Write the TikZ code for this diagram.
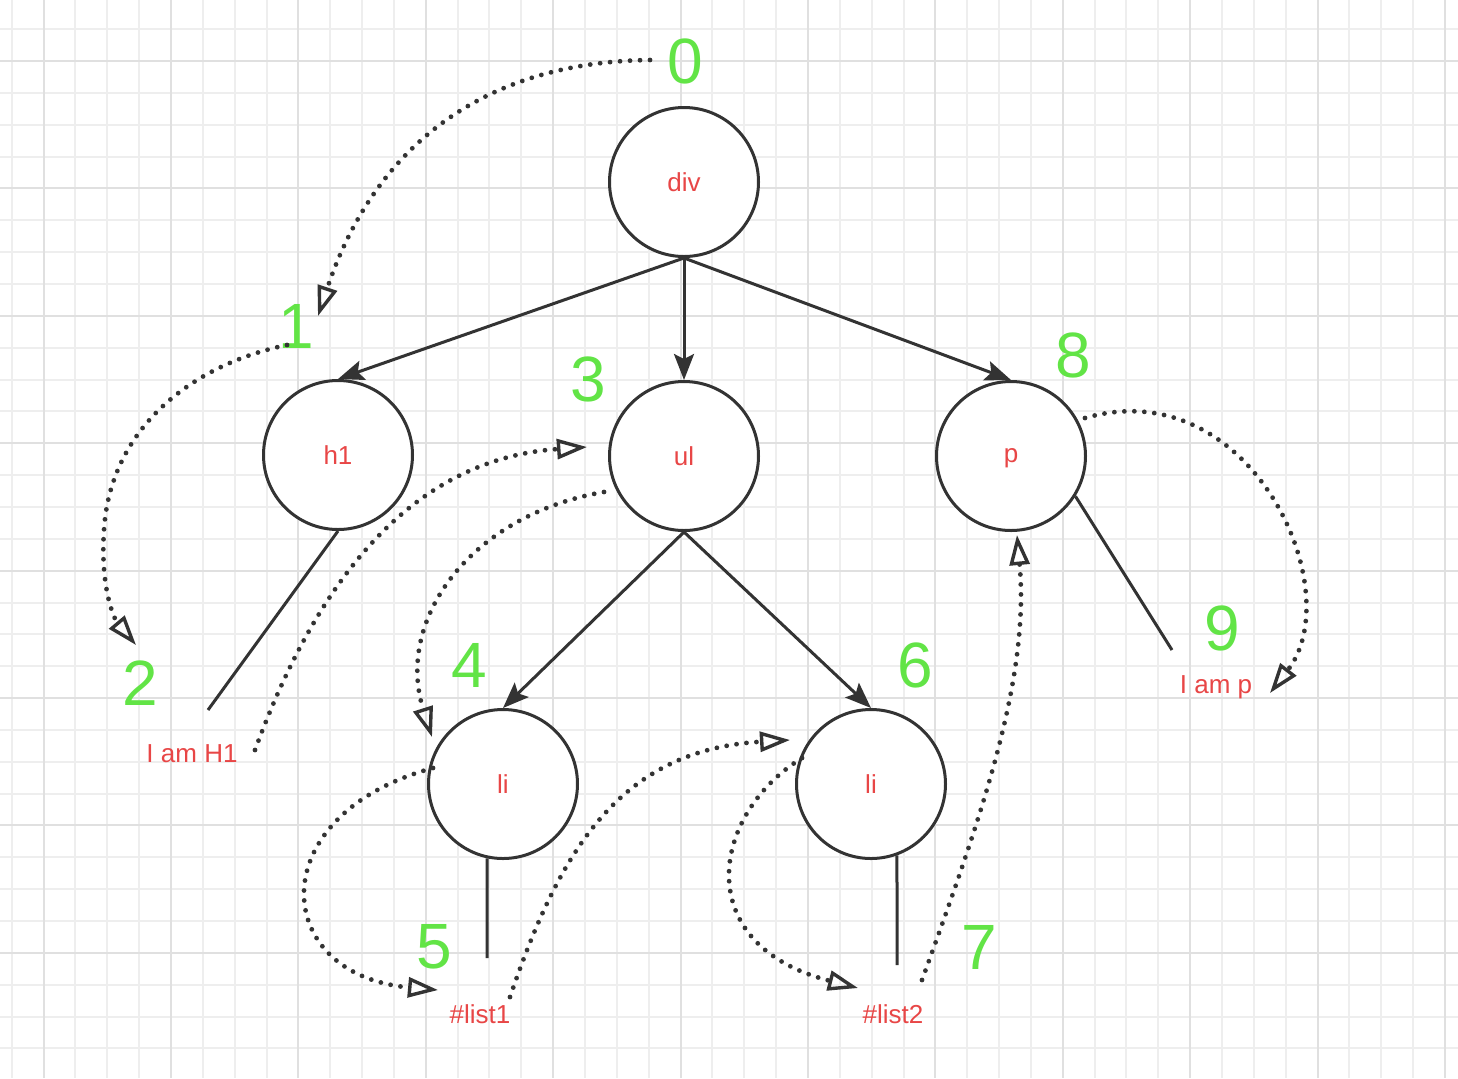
\documentclass[tikz,border=0pt]{standalone}
\usepackage{fontspec}
\setmainfont{Liberation Sans}
\usetikzlibrary{arrows.meta}
\definecolor{numgreen}{RGB}{98,228,70}
\definecolor{lblred}{RGB}{232,70,70}
\definecolor{inkgray}{RGB}{51,51,51}
\definecolor{gridminor}{RGB}{238,238,238}
\definecolor{gridmajor}{RGB}{224,224,224}
\begin{document}
\begin{tikzpicture}[x=0.5pt,y=-0.5pt,
  treenode/.style={circle, draw=inkgray, line width=1.5pt, fill=white, minimum size=74.5pt, inner sep=0pt, text=lblred, text depth=0pt, font=\fontsize{13}{15}\selectfont},
  stepnum/.style={text=numgreen, inner sep=0pt, font=\fontsize{32}{36}\selectfont},
  leaftext/.style={text=lblred, inner sep=0pt, anchor=base, font=\fontsize{13}{15}\selectfont},
  treeedge/.style={draw=inkgray, line width=1.5pt, -{Stealth[length=13pt,width=10pt,inset=2.5pt]}},
  stem/.style={draw=inkgray, line width=1.5pt},
  walk/.style={draw=inkgray, line width=2.4pt, dash pattern=on 0pt off 5pt, line cap=round, -{Triangle[open,length=15pt,width=10pt,line width=1.7pt]}}
]
\useasboundingbox (0,0) rectangle (1458,1078);
\fill[white] (0,0) rectangle (1458,1078);
% grid
\foreach \k in {0,...,45} {\pgfmathsetmacro\xx{11.7+\k*31.85}\draw[gridminor, line width=1pt] (\xx,0) -- (\xx,1078);}
\foreach \k in {0,...,33} {\pgfmathsetmacro\yy{29.2+\k*31.85}\draw[gridminor, line width=1pt] (0,\yy) -- (1458,\yy);}
\foreach \k in {0,...,11} {\pgfmathsetmacro\xx{43.6+\k*127.4}\draw[gridmajor, line width=1pt] (\xx,0) -- (\xx,1078);}
\foreach \k in {0,...,7} {\pgfmathsetmacro\yy{61+\k*127.4}\draw[gridmajor, line width=1pt] (0,\yy) -- (1458,\yy);}

% tree nodes
\node[treenode] (div) at (684,182) {div};
\node[treenode] (h1) at (338,455) {h1};
\node[treenode] (ul) at (684,456) {ul};
\node[treenode] (p) at (1011,456) {p};
\node[treenode] (li1) at (503,784) {li};
\node[treenode] (li2) at (871,784) {li};

% leaf texts
\node[leaftext] (th1) at (192,762) {I am H1};
\node[leaftext] (tp) at (1216,693) {I am p};
\node[leaftext] (tl1) at (480,1023) {\#list1};
\node[leaftext] (tl2) at (893,1023) {\#list2};

% step numbers
\node[stepnum] (n0) at (685,61) {0};
\node[stepnum] (n1) at (296,326) {1};
\node[stepnum] (n2) at (140,683) {2};
\node[stepnum] (n3) at (588,379) {3};
\node[stepnum] (n4) at (469,665) {4};
\node[stepnum] (n5) at (434,947) {5};
\node[stepnum] (n6) at (915,665) {6};
\node[stepnum] (n7) at (979,947) {7};
\node[stepnum] (n8) at (1073,355) {8};
\node[stepnum] (n9) at (1222,628) {9};

% tree edges
\draw[treeedge] (div.south) -- (h1.north);
\draw[treeedge] (div.south) -- (ul.north);
\draw[treeedge] (div.south) -- (p.north);
\draw[treeedge] (ul.south) -- (li1.north);
\draw[treeedge] (ul.south) -- (li2.north);

% stems to text leaves
\coordinate (h1end) at (208,710);
\coordinate (pend) at (1172,650);
\coordinate (li1end) at (487,958);
\coordinate (li2end) at (897,965);
\draw[stem] (h1.south) -- (h1end);
\draw[stem] (p.-32) -- (pend);
\draw[stem] (li1.-102) -- (li1end);
\draw[stem] (li2.-70) -- (li2end);

% traversal walk
\coordinate (w0a) at (650,60);   \coordinate (w0b) at (318,316);
\coordinate (w1a) at (287,345);  \coordinate (w1b) at (136,645);
\coordinate (w2a) at (255,750);  \coordinate (w2b) at (587,447);
\coordinate (w3a) at (604,492);  \coordinate (w3b) at (432,737);
\coordinate (w4a) at (433,768);  \coordinate (w4b) at (438,990);
\coordinate (w5a) at (510,997);  \coordinate (w5b) at (790,740);
\coordinate (w6a) at (802,758);  \coordinate (w6b) at (858,988);
\coordinate (w7a) at (922,980);  \coordinate (w7b) at (1017,535);
\coordinate (w8a) at (1085,418); \coordinate (w8b) at (1270,693);
\draw[walk] (w0a) .. controls (470,62) and (370,160) .. (w0b);
\draw[walk] (w1a) .. controls (190,365) and (110,430) .. (104,530) .. controls (100,590) and (115,620) .. (w1b);
\draw[walk] (w2a) .. controls (310,600) and (400,460) .. (w2b);
\draw[walk] (w3a) .. controls (470,515) and (395,620) .. (w3b);
\draw[walk] (w4a) .. controls (260,815) and (270,975) .. (w4b);
\draw[walk] (w5a) .. controls (560,850) and (620,750) .. (w5b);
\draw[walk] (w6a) .. controls (710,815) and (690,945) .. (w6b);
\draw[walk] (w7a) .. controls (980,820) and (1030,680) .. (w7b);
\draw[walk] (w8a) .. controls (1250,370) and (1350,590) .. (w8b);
\end{tikzpicture}
\end{document}
